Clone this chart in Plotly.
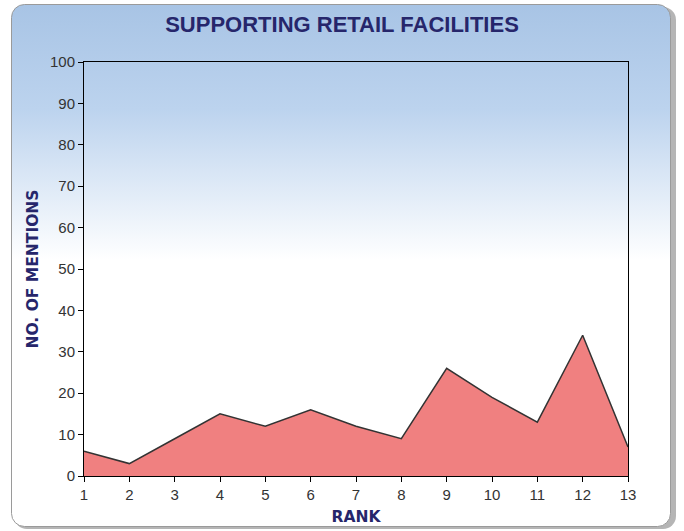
import base64
import plotly.graph_objects as go

ranks = list(range(1, 14))
mentions = [6, 3, 9, 15, 12, 16, 12, 9, 26, 19, 13, 34, 7]
y_ticks = list(range(0, 101, 10))

W, H = 684, 531
L, R, T, B = 84, 56, 62, 55
pw, ph = W - L - R, H - T - B

svg = f'''<svg xmlns="http://www.w3.org/2000/svg" width="{W}" height="{H}" viewBox="0 0 {W} {H}">
<defs><linearGradient id="g" x1="0" y1="0" x2="0" y2="1">
<stop offset="0" stop-color="#a8c4e5"/><stop offset="0.2" stop-color="#bcd3ee"/><stop offset="0.49" stop-color="#ffffff"/><stop offset="1" stop-color="#ffffff"/>
</linearGradient></defs>
<rect x="14" y="7" width="662" height="522" rx="13" fill="#b5b5b5"/>
<rect x="11.5" y="4.5" width="659" height="522" rx="13" fill="url(#g)" stroke="#9a9a9a" stroke-width="1"/>
</svg>'''
src = "data:image/svg+xml;base64," + base64.b64encode(svg.encode()).decode()

fig = go.Figure()
fig.add_trace(go.Scatter(
    x=ranks, y=mentions, mode="lines", fill="tozeroy",
    fillcolor="#f08080", line=dict(color="#333333", width=1.5),
    hoverinfo="x+y", showlegend=False,
))

axis_common = dict(
    showgrid=False, zeroline=False, showline=True, linecolor="#000000", linewidth=1,
    mirror=True, ticks="outside", ticklen=5, tickcolor="#000000", automargin=False,
    tickfont=dict(family="Liberation Sans, Arial, sans-serif", size=15, color="#333333"),
)
title_font = dict(family="DejaVu Sans, Verdana, sans-serif", size=15.5, color="#26266b")

fig.update_layout(
    width=W, height=H,
    margin=dict(l=L, r=R, t=T, b=B),
    paper_bgcolor="#ffffff", plot_bgcolor="rgba(0,0,0,0)",
    title=dict(text="<b>SUPPORTING RETAIL FACILITIES</b>", x=0.5, xref="container", xanchor="center",
               y=1 - 24 / H, yanchor="middle",
               font=dict(family="Liberation Sans, Arial, sans-serif", size=22, color="#26266b")),
    xaxis=dict(range=[1, 13], tickvals=ranks, **axis_common,
               title=dict(text="<b>RANK</b>", standoff=9, font=title_font)),
    yaxis=dict(range=[0, 100], tickvals=y_ticks, **axis_common,
               title=dict(text="<b>NO. OF MENTIONS</b>", standoff=7, font=title_font)),
    images=[dict(source=src, xref="paper", yref="paper", x=-L / pw, y=1 + T / ph,
                 sizex=W / pw, sizey=H / ph, xanchor="left", yanchor="top",
                 sizing="stretch", layer="below")],
)

fig.write_html("out.html")
